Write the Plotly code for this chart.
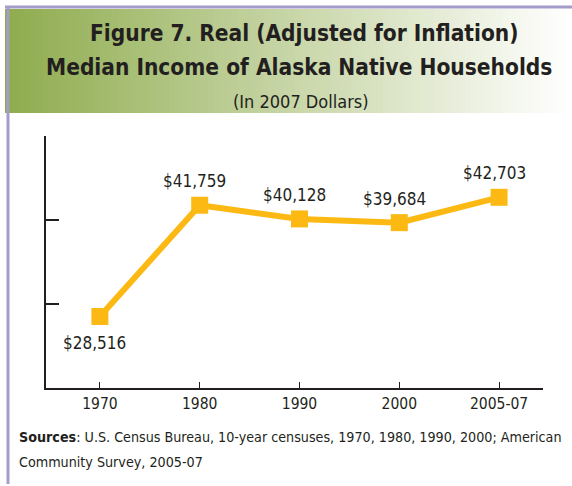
import plotly.graph_objects as go

years = ["1970", "1980", "1990", "2000", "2005-07"]
income = [28516, 41759, 40128, 39684, 42703]
y_ticks = [20000, 30000, 40000, 50000]

W, H = 572, 486
ML, MR, MT, MB = 46, 29, 136, 98
PW, PH = W - ML - MR, H - MT - MB

def px(p):
    return (p - ML) / PW

def py(q):
    return (H - MB - q) / PH

FONT = "DejaVu Sans Condensed, sans-serif"
TXT = "#231f20"
GOLD = "#FDB913"
PURPLE = "#a59bc9"

fig = go.Figure()
fig.add_trace(go.Scatter(
    x=list(range(len(years))), y=income, mode="lines+markers",
    line=dict(color=GOLD, width=6),
    marker=dict(symbol="square", size=17, color=GOLD),
    hoverinfo="skip", showlegend=False,
))

annotations = []
for i, v in enumerate(income):
    below = i == 0
    annotations.append(dict(
        x=i, y=v, xref="x", yref="y", text=f"${v:,}", showarrow=False,
        xshift=-5, yshift=-27 if below else 24, yanchor="middle",
        font=dict(family=FONT, size=17, color=TXT),
    ))

def txt(xp, yp, text, size, anchor="center"):
    return dict(x=px(xp), y=py(yp), xref="paper", yref="paper",
                xanchor=anchor, yanchor="middle", text=text, showarrow=False,
                font=dict(family=FONT, size=size, color=TXT))

annotations += [
    txt(304, 33, "<b>Figure 7. Real (Adjusted for Inflation)</b>", 22.5),
    txt(299, 67, "<b>Median Income of Alaska Native Households</b>", 22.5),
    txt(301, 101, "(In 2007 Dollars)", 18),
    txt(17, 437, "<b>Sources</b>: U.S. Census Bureau, 10-year censuses, 1970, 1980, 1990, 2000; American", 14.2, "left"),
    txt(17, 462, "Community Survey, 2005-07", 14.2, "left"),
]

shapes = []
x0, x1, yt, yb = 5, 572, 9, 113
n = 90
c0 = (143, 172, 78)
c1 = (255, 255, 255)
for k in range(n):
    t = k / (n - 1)
    r = round(c0[0] + (c1[0] - c0[0]) * t)
    g = round(c0[1] + (c1[1] - c0[1]) * t)
    b = round(c0[2] + (c1[2] - c0[2]) * t)
    sx0 = x0 + (x1 - x0) * k / n
    sx1 = x0 + (x1 - x0) * (k + 1) / n + 0.8
    shapes.append(dict(type="rect", xref="paper", yref="paper", layer="below",
                       x0=px(sx0), x1=px(sx1), y0=py(yb), y1=py(yt),
                       line=dict(width=0), fillcolor=f"rgb({r},{g},{b})"))
shapes.append(dict(type="line", xref="paper", yref="paper",
                   x0=px(5), x1=px(572), y0=py(7), y1=py(7),
                   line=dict(color=PURPLE, width=3)))
shapes.append(dict(type="line", xref="paper", yref="paper",
                   x0=px(8), x1=px(8), y0=py(7), y1=py(484),
                   line=dict(color=PURPLE, width=3)))

fig.update_layout(
    width=W, height=H,
    margin=dict(l=ML, r=MR, t=MT, b=MB),
    paper_bgcolor="white", plot_bgcolor="white",
    annotations=annotations, shapes=shapes,
    showlegend=False,
    xaxis=dict(
        range=[-0.54, 4.44],
        tickvals=list(range(len(years))), ticktext=years,
        showline=True, linecolor=TXT, linewidth=1.5,
        ticks="inside", ticklen=6, tickcolor=TXT, tickwidth=1,
        showgrid=False, zeroline=False,
        tickfont=dict(family=FONT, size=15.5, color=TXT),
        ticklabelstandoff=1,
    ),
    yaxis=dict(
        range=[20000, 50000], tickvals=y_ticks, showticklabels=False,
        showline=True, linecolor=TXT, linewidth=1.5,
        ticks="inside", ticklen=13, tickcolor=TXT, tickwidth=1.5,
        showgrid=False, zeroline=False,
    ),
)

fig.write_html("out.html", config={"displayModeBar": False},
               post_script="document.body.style.margin='0';document.body.style.overflow='hidden';")
